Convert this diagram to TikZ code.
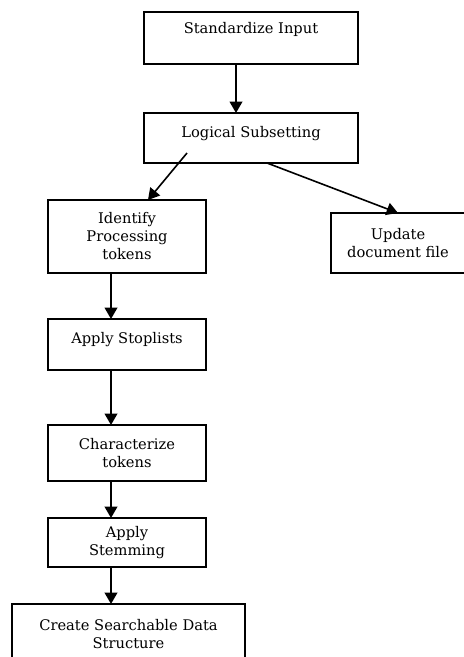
\documentclass[tikz,border=0pt]{standalone}
\usepackage{fontspec}
\setmainfont{DejaVu Serif}
\usepackage{tikz}
\usetikzlibrary{arrows.meta}
\tikzset{
	procbox/.style={draw, line width=1.1pt, inner sep=0pt, outer sep=0pt, align=center, font=\fontsize{11}{13.5}\selectfont},
	flowarrow/.style={line width=1.2pt, -{Triangle[width=9.5pt,length=8.5pt]}}
}

\begin{document}
\begin{tikzpicture}[x=0.75pt, y=-0.75pt]
			%%%%% START %%%%%
			
			\useasboundingbox (0, 0) rectangle (464, 657);
			\clip (0, 0) rectangle (464, 657);
			
			\node[procbox, minimum width=160.5pt, minimum height=39pt, text height=8.5pt, text depth=16pt] (std) at (251, 38) {Standardize Input};
			\node[procbox, minimum width=160.5pt, minimum height=37.5pt, text height=8.5pt, text depth=10pt] (logic) at (251, 138) {Logical Subsetting};
			
			\node[procbox, minimum width=118.5pt, minimum height=54.75pt] (ident) at (127, 236.5) {Identify\\Processing\\tokens};
			\node[procbox, minimum width=100.5pt, minimum height=45pt] (update) at (398, 243) {Update\\document file};
			
			\node[procbox, minimum width=118.5pt, minimum height=38.25pt, text height=8.5pt, text depth=9.5pt] (stop) at (127, 344.5) {Apply Stoplists};
			\node[procbox, minimum width=118.5pt, minimum height=42pt] (charz) at (127, 453) {Characterize\\tokens};
			\node[procbox, minimum width=118.5pt, minimum height=36.75pt] (stem) at (127, 542.5) {Apply\\Stemming};
			\node[procbox, minimum width=174.75pt, minimum height=45pt] (create) at (128.5, 634) {Create Searchable Data\\Structure};
			
			\coordinate (topspine) at (236, 0);
			\coordinate (spine) at (111, 0);
			
			\draw[flowarrow] (std.south -| topspine) -- (logic.north -| topspine);
			\draw[flowarrow] ([xshift=-48pt, yshift=7.5pt]logic.south) -- ([xshift=15.75pt]ident.north);
			\draw[flowarrow] ([xshift=12pt]logic.south) -- (update.north);
			
			\draw[flowarrow] (ident.south -| spine) -- (stop.north -| spine);
			\draw[flowarrow] (stop.south -| spine) -- (charz.north -| spine);
			\draw[flowarrow] (charz.south -| spine) -- (stem.north -| spine);
			\draw[flowarrow] (stem.south -| spine) -- (create.north -| spine);
			
			%%%%% END %%%%%
		\end{tikzpicture}
\end{document}
